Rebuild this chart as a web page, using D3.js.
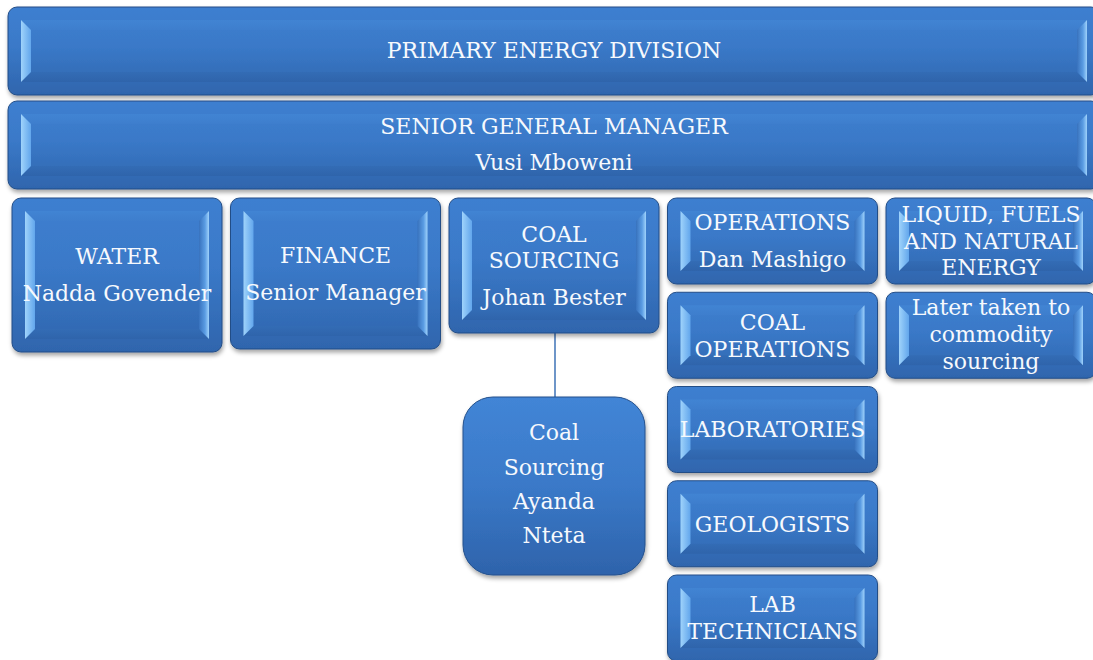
<!DOCTYPE html>
<html><head><meta charset="utf-8">
<script src="https://cdn.jsdelivr.net/npm/d3@7"></script>
<style>html,body{margin:0;padding:0;background:#fff;overflow:hidden}svg{display:block}</style>
</head><body>
<script>
// ---- data (text content of the org chart) ----
const bandTexts = [
  [["PRIMARY ENERGY DIVISION"]],
  [["SENIOR GENERAL MANAGER"], ["Vusi Mboweni"]]
];
const departments = [
  [["WATER"], ["Nadda Govender"]],
  [["FINANCE"], ["Senior Manager"]],
  [["COAL", "SOURCING"], ["Johan Bester"]],
  [["OPERATIONS"], ["Dan Mashigo"]],
  [["LIQUID, FUELS", "AND NATURAL", "ENERGY"]]
];
const operationsUnits = [
  [["COAL", "OPERATIONS"]],
  [["LABORATORIES"]],
  [["GEOLOGISTS"]],
  [["LAB", "TECHNICIANS"]]
];
const liquidNotes = [
  [["Later taken to", "commodity", "sourcing"]]
];
const coalSubUnit = ["Coal", "Sourcing", "Ayanda", "Nteta"];

// ---- layout ----
const W = 1093, H = 660;
const svg = d3.select("body").append("svg").attr("width", W).attr("height", H);
const defs = svg.append("defs");

function lin(id, x2, y2, stops) {
  const g = defs.append("linearGradient").attr("id", id)
    .attr("x1", 0).attr("y1", 0).attr("x2", x2).attr("y2", y2);
  stops.forEach(s => g.append("stop").attr("offset", s[0]).attr("stop-color", s[1]));
}
lin("face", 0, 1, [[0, "#3e7fd0"], [0.45, "#3a79c8"], [1, "#2f65ad"]]);
lin("leftB", 1, 0, [[0, "#9fd3fb"], [1, "#62a6ec"]]);
lin("rightB", 1, 0, [[0, "#3872bd"], [0.6, "#5a9ce3"], [1, "#9fd2fb"]]);
lin("topB", 0, 1, [[0, "#4184d3"], [1, "#3e7ecd"]]);
lin("botB", 0, 1, [[0, "#336cb5"], [1, "#2f64ab"]]);
lin("round", 0, 1, [[0, "#4285d6"], [0.5, "#3a79c8"], [1, "#2e63ab"]]);

const f = defs.append("filter").attr("id", "shadow").attr("x", "-10%").attr("y", "-10%").attr("width", "130%").attr("height", "140%");
f.append("feDropShadow").attr("dx", 1).attr("dy", 3).attr("stdDeviation", 2)
  .attr("flood-color", "#000").attr("flood-opacity", 0.35);

const xCol = d3.scaleLinear().domain([0, 4]).range([12, 886]);
const yRow = d3.scaleLinear().domain([0, 4]).range([198, 575]);
const colW = 210, rowH = 86;
const deptHeights = [154, 151, 135, 86, 86];
const bandY = d3.scaleLinear().domain([0, 1]).range([7, 101]);
const bandH = 88;

const FONT = "'DejaVu Serif', serif";
const FS = 22, LINE = 27, PARA = 37;

function bevelBox(x, y, w, h) {
  const g = svg.append("g");
  g.append("rect").attr("x", x).attr("y", y).attr("width", w).attr("height", h)
    .attr("rx", 9).attr("fill", "url(#face)").attr("stroke", "#234d86").attr("stroke-width", 1)
    .attr("filter", "url(#shadow)");
  const i = 13, b = 10;
  const o = [x + i, y + i, x + w - i, y + h - i];
  const n = [x + i + b, y + i + b, x + w - i - b, y + h - i - b];
  const poly = pts => pts.map(p => p.join(",")).join(" ");
  g.append("polygon").attr("points", poly([[o[0], o[1]], [o[2], o[1]], [n[2], n[1]], [n[0], n[1]]])).attr("fill", "url(#topB)");
  g.append("polygon").attr("points", poly([[o[0], o[3]], [o[2], o[3]], [n[2], n[3]], [n[0], n[3]]])).attr("fill", "url(#botB)");
  g.append("polygon").attr("points", poly([[o[0], o[1]], [n[0], n[1]], [n[0], n[3]], [o[0], o[3]]])).attr("fill", "url(#leftB)");
  g.append("polygon").attr("points", poly([[o[2], o[1]], [n[2], n[1]], [n[2], n[3]], [o[2], o[3]]])).attr("fill", "url(#rightB)");
  return g;
}

function writeText(cx, cy, paras, lineGap, paraGap) {
  const ys = [];
  let cur = 0;
  paras.forEach((p, pi) => {
    p.forEach((l, li) => {
      if (pi > 0 && li === 0) cur += paraGap;
      else if (li > 0) cur += lineGap;
      ys.push({ t: l, y: cur });
    });
  });
  const mid = ys[ys.length - 1].y / 2;
  svg.append("g").selectAll("text").data(ys).join("text")
    .attr("x", cx).attr("y", d => cy + d.y - mid).attr("dy", "0.36em")
    .attr("text-anchor", "middle").attr("fill", "#f6f9fd")
    .attr("font-family", FONT).attr("font-size", FS)
    .text(d => d.t);
}

// top bands
bandTexts.forEach((paras, i) => {
  const y = bandY(i);
  bevelBox(8, y, 1092, bandH);
  writeText(554, y + bandH / 2 - 0.5, paras, LINE, PARA - 1);
});

// connector from coal sourcing to sub unit
const subX = 463, subY = 397, subW = 182, subH = 178;
svg.append("line")
  .attr("x1", xCol(2) + colW / 2 + 1).attr("x2", xCol(2) + colW / 2 + 1)
  .attr("y1", yRow(0) + deptHeights[2]).attr("y2", subY)
  .attr("stroke", "#4a7bbb").attr("stroke-width", 1.6);

// departments row
departments.forEach((paras, i) => {
  const x = xCol(i), y = yRow(0), h = deptHeights[i];
  bevelBox(x, y, colW, h);
  writeText(x + colW / 2, y + h / 2, paras, LINE - 0.5, PARA);
});

// operations column
operationsUnits.forEach((paras, i) => {
  const x = xCol(3), y = yRow(i + 1);
  bevelBox(x, y, colW, rowH);
  writeText(x + colW / 2, y + rowH / 2, paras, LINE, PARA);
});

// liquid notes
liquidNotes.forEach((paras, i) => {
  const x = xCol(4), y = yRow(i + 1);
  bevelBox(x, y, colW, rowH);
  writeText(x + colW / 2, y + rowH / 2 - 1, paras, LINE, PARA);
});

// coal sourcing sub unit (rounded)
svg.append("rect").attr("x", subX).attr("y", subY).attr("width", subW).attr("height", subH)
  .attr("rx", 30).attr("fill", "url(#round)").attr("stroke", "#24508c").attr("stroke-width", 1)
  .attr("filter", "url(#shadow)");
writeText(subX + subW / 2, subY + subH / 2 - 2, coalSubUnit.map(t => [t]), 34.3, 34.3);
</script>
</body></html>
